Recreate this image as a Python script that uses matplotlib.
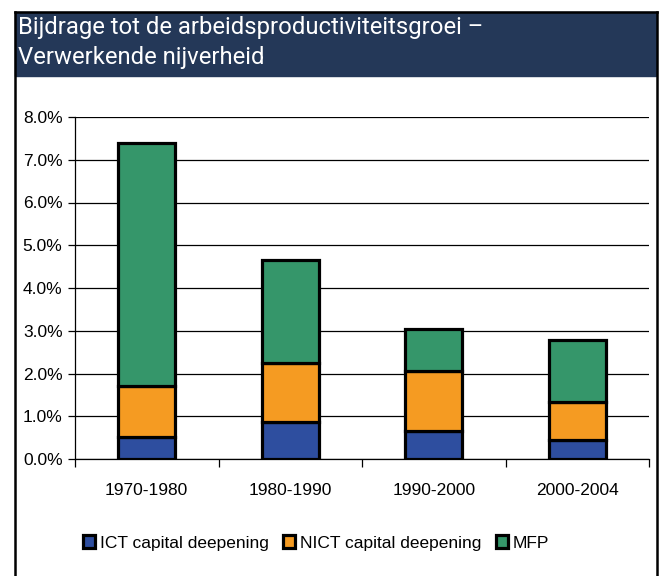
import matplotlib

matplotlib.use("Agg")
import matplotlib.pyplot as plt
from matplotlib.patches import Rectangle
from matplotlib.lines import Line2D
from matplotlib.ticker import FuncFormatter, FixedLocator

periods = ["1970-1980", "1980-1990", "1990-2000", "2000-2004"]
ict = [0.51, 0.87, 0.66, 0.44]
nict = [1.20, 1.37, 1.41, 0.89]
mfp = [5.68, 2.42, 0.98, 1.46]
series_labels = ["ICT capital deepening", "NICT capital deepening", "MFP"]
colors = ["#2E4E9F", "#F59B22", "#35966A"]
title_lines = ["Bijdrage tot de arbeidsproductiviteitsgroei \u2013",
               "Verwerkende nijverheid"]

W, H = 663, 576
fig = plt.figure(figsize=(W / 100, H / 100), dpi=100)
plt.rcParams["font.family"] = ["Liberation Sans", "DejaVu Sans"]

# header band and frame
fig.patches.append(Rectangle((15 / W, 1 - 76 / H), 641 / W, 64 / H,
                             transform=fig.transFigure, color="#243858", zorder=0))
for xs, ys in [([15 / W, 15 / W], [0, 1 - 12 / H]),
               ([657 / W, 657 / W], [0, 1 - 12 / H]),
               ([15 / W, 657 / W], [1 - 12 / H, 1 - 12 / H])]:
    fig.lines.append(Line2D(xs, ys, transform=fig.transFigure, color="black", lw=1.8))
for line, base in zip(title_lines, [34, 64]):
    fig.text(18 / W, 1 - base / H, line, color="white", fontsize=17.2, va="baseline",
             ha="left", family=["Roboto", "DejaVu Sans"])

ax = fig.add_axes([75 / W, 1 - 459 / H, 574 / W, 342 / H])
x = list(range(len(periods)))
bottom = [0] * len(periods)
for vals, lab, c in zip([ict, nict, mfp], series_labels, colors):
    ax.bar(x, vals, 0.4, bottom=bottom, color=c, edgecolor="black", linewidth=2.3,
           label=lab, zorder=3)
    bottom = [b + v for b, v in zip(bottom, vals)]

ax.set_xlim(-0.5, 3.5)
ax.set_ylim(0, 8)
ax.set_yticks(range(0, 9))
ax.yaxis.set_major_formatter(FuncFormatter(lambda v, p: f"{v:.1f}%"))
ax.grid(axis="y", color="black", linewidth=0.9, zorder=0)
ax.set_axisbelow(True)
ax.set_xticks(x)
ax.set_xticklabels(periods)
ax.xaxis.set_minor_locator(FixedLocator([-0.5, 0.5, 1.5, 2.5, 3.5]))
ax.tick_params(axis="x", which="major", length=0, pad=17, labelsize=12.5)
ax.tick_params(axis="x", which="minor", length=6, width=0.9, color="black")
ax.tick_params(axis="y", length=5, width=0.9, labelsize=12.5, pad=4)
for s in ["top", "right"]:
    ax.spines[s].set_visible(False)
for s in ["left", "bottom"]:
    ax.spines[s].set_linewidth(0.9)

leg = fig.legend(loc="center", bbox_to_anchor=(316 / W, 1 - 543 / H), ncol=3,
                 frameon=False, fontsize=12.5, handlelength=0.7, handleheight=0.7,
                 handletextpad=0.3, columnspacing=0.8)
for h in leg.legend_handles:
    h.set_linewidth(2.3)

fig.savefig("out.png", dpi=100)
